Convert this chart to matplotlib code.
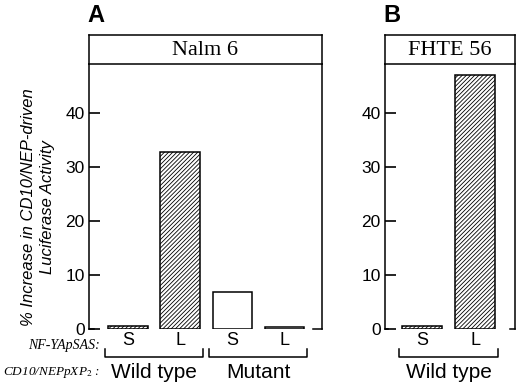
import matplotlib
matplotlib.use("Agg")
from matplotlib import pyplot as plt
from matplotlib import transforms

plt.rcParams['font.family'] = ['Liberation Sans', 'DejaVu Sans']
plt.rcParams['mathtext.fontset'] = 'stix'
plt.rcParams['hatch.linewidth'] = 0.6

# ===== DATA =====
labelsA = ["S", "L", "S", "L"]
valuesA = [0.5, 32.8, 6.9, 0.3]
hatchedA = [True, True, False, False]
groupsA = ["Wild type", "Mutant"]

labelsB = ["S", "L"]
valuesB = [0.5, 46.9]
hatchedB = [True, True]
groupsB = ["Wild type"]

yticks = [0, 10, 20, 30, 40]
ymax = 49

W, H = 520, 385
fig = plt.figure(figsize=(W / 100, H / 100), dpi=100)


def px(left, top, right, bottom):
    return [left / W, (H - bottom) / H, (right - left) / W, (bottom - top) / H]


def panel(x0, x1, xlim, title, letter, labels, values, hatched, groups):
    ax = fig.add_axes(px(x0, 64, x1, 329))
    hd = fig.add_axes(px(x0, 35, x1, 64))
    hd.set_xticks([])
    hd.set_yticks([])
    for s in hd.spines.values():
        s.set_linewidth(1.1)
    hd.text(0.5, 0.45, title, ha="center", va="center", fontsize=16,
            family="Liberation Serif", transform=hd.transAxes)
    fig.text(x0 / W - 0.004, (H - 22) / H, letter, fontsize=17, fontweight="bold")

    pos = list(range(len(values)))
    for p, v, h in zip(pos, values, hatched):
        ax.bar(p, v, width=0.76, color="white", edgecolor="black", linewidth=1.1,
               hatch="////////" if h else None)
    ax.set_xlim(*xlim)
    ax.set_ylim(0, ymax)
    ax.set_yticks(yticks)
    ax.tick_params(axis="y", direction="in", length=8, width=1.2, labelsize=12.5, pad=3)
    ax.set_xticks([])
    ax.spines["top"].set_visible(False)
    ax.spines["bottom"].set_visible(False)
    for s in ["left", "right"]:
        ax.spines[s].set_linewidth(1.1)
    # little feet at the bottom corners
    ax.plot([0, 0.02], [0, 0], transform=ax.transAxes, color="black", lw=1.1, clip_on=False)
    ax.plot([0.96, 1], [0, 0], transform=ax.transAxes, color="black", lw=1.1, clip_on=False)

    tr = transforms.blended_transform_factory(ax.transData, ax.transAxes)
    for p, lab in zip(pos, labels):
        ax.text(p, -0.045, lab, ha="center", va="center", fontsize=13, transform=tr)
    for i, g in enumerate(groups):
        a, b = 2 * i - 0.45, 2 * i + 1.43
        ax.plot([a, a, b, b], [-0.075, -0.106, -0.106, -0.075], transform=tr,
                color="black", lw=1.1, clip_on=False)
        ax.text(2 * i + 0.5, -0.165, g, ha="center", va="center", fontsize=15, transform=tr)
    return ax


panel(89, 322, (-0.75, 3.72), "Nalm 6", "A", labelsA, valuesA, hatchedA, groupsA)
panel(385, 515, (-0.71, 1.76), "FHTE 56", "B", labelsB, valuesB, hatchedB, groupsB)

fig.text(38 / W, (H - 207) / H, "% Increase in CD10/NEP-driven\nLuciferase Activity",
         rotation=90, ha="center", va="center", fontsize=12, style="italic",
         linespacing=1.3)
fig.text(100 / W, (H - 346) / H, "NF-YApSAS:", ha="right", va="center", fontsize=10,
         family="Liberation Serif", style="italic")
fig.text(100 / W, (H - 373) / H, "CD10/NEPpXP$_2$ :", ha="right", va="center",
         fontsize=9.5, family="Liberation Serif", style="italic")

plt.savefig("out.png", dpi=100)
